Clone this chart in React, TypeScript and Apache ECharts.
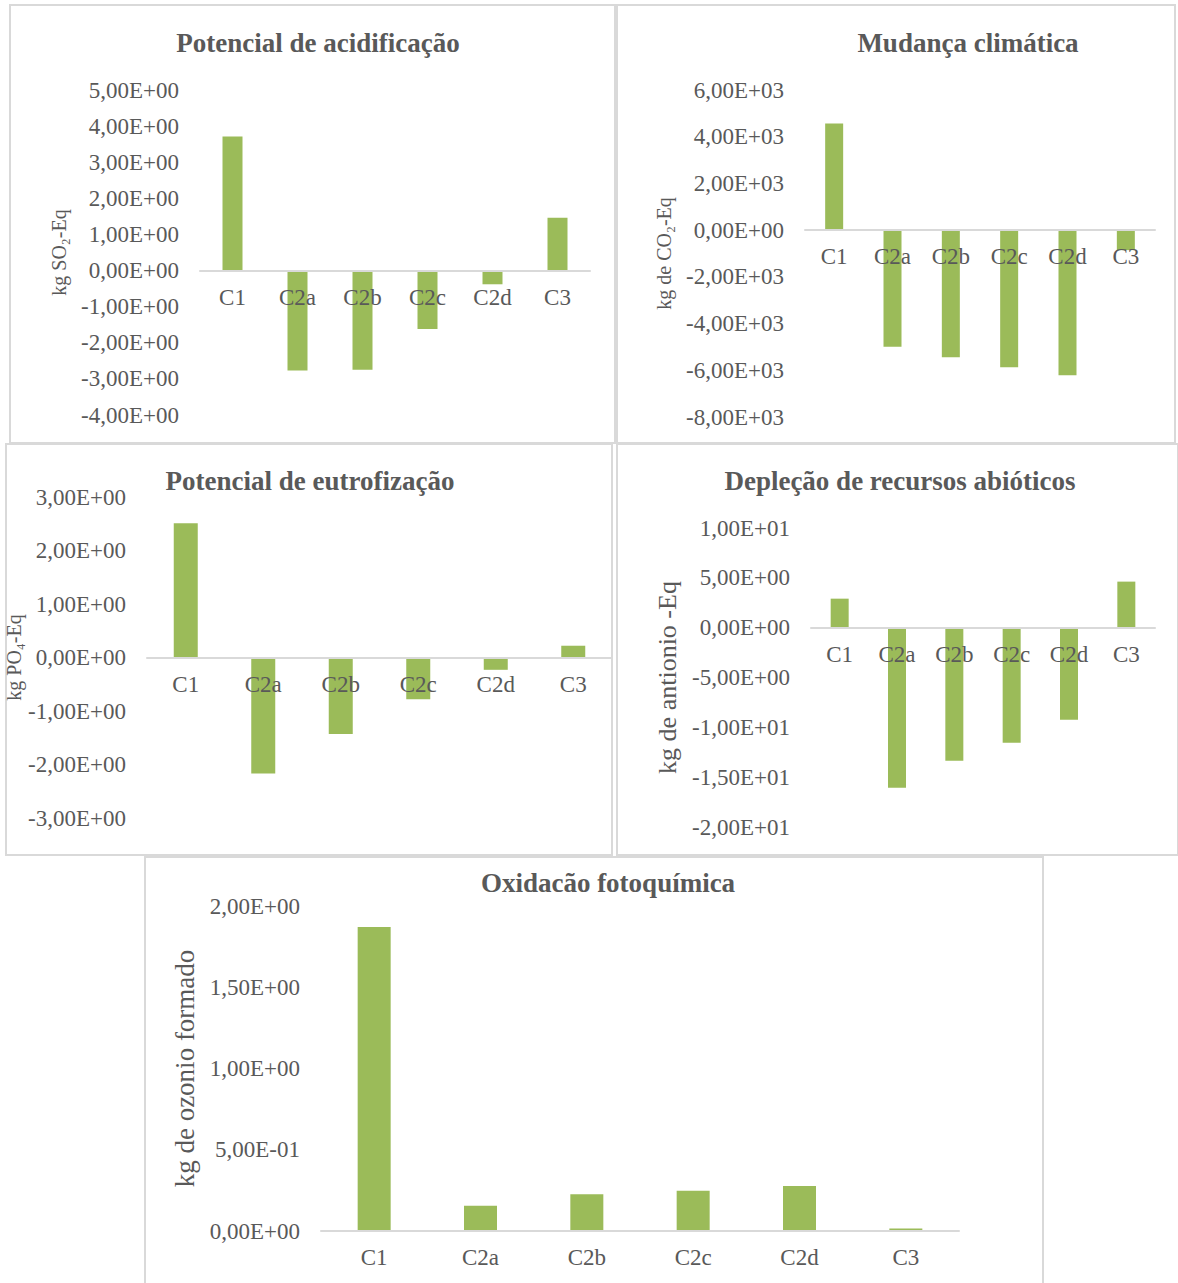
import React, { useEffect, useRef } from "react";
import * as echarts from "echarts";

const categories = ["C1", "C2a", "C2b", "C2c", "C2d", "C3"];
const acidValues = [3.71, -2.77, -2.75, -1.62, -0.38, 1.46];
const climateValues = [4570, -4990, -5445, -5870, -6215, -855];
const eutroValues = [2.51, -2.17, -1.43, -0.78, -0.23, 0.22];
const abioticValues = [2.91, -16.06, -13.35, -11.55, -9.24, 4.62];
const photoValues = [1.871, 0.156, 0.226, 0.248, 0.277, 0.015];

const titles = [
  "Potencial de acidificação",
  "Mudança climática",
  "Potencial de eutrofização",
  "Depleção de recursos abióticos",
  "Oxidacão fotoquímica",
];
const axisNames = [
  "kg SO₂-Eq",
  "kg de CO₂-Eq",
  "kg PO₄-Eq",
  "kg de antionio -Eq",
  "kg de ozonio formado",
];
const yMins = [-4, -8000, -3, -20, 0];
const yMaxs = [5, 6000, 3, 10, 2];
const yIntervals = [1, 2000, 1, 5, 0.5];

const FONT = "'Liberation Serif', 'Times New Roman', serif";
const GRAY = "#595959";
const BAR = "#9bbb59";

function sci(v: number): string {
  if (v === 0) return "0,00E+00";
  const s = v.toExponential(2);
  const [m, e] = s.split("e");
  const en = parseInt(e, 10);
  const sign = en < 0 ? "-" : "+";
  const ab = Math.abs(en).toString().padStart(2, "0");
  return m.replace(".", ",") + "E" + sign + ab;
}

const layouts = [
  { grid: { left: 200, top: 90, width: 390, height: 325 }, barWidth: 20, nameGap: 131, nameSize: 20, title: [318, 43], border: [10, 5, 605, 438] },
  { grid: { left: 805, top: 90, width: 350, height: 327 }, barWidth: 18, nameGap: 131, nameSize: 20, title: [968, 43], border: [617, 5, 558, 438] },
  { grid: { left: 147, top: 497, width: 465, height: 321 }, barWidth: 24, nameGap: 105, nameSize: 20, title: [310, 481], border: [6, 444, 606, 411] },
  { grid: { left: 811, top: 528, width: 344, height: 299 }, barWidth: 18, nameGap: 131, nameSize: 26, title: [900, 481], border: [617, 444, 561, 411] },
  { grid: { left: 321, top: 906, width: 638, height: 325 }, barWidth: 33, nameGap: 121, nameSize: 27, title: [608, 883], border: [145, 857, 898, 430] },
];

const dataSets = [acidValues, climateValues, eutroValues, abioticValues, photoValues];

export default function App() {
  const ref = useRef<HTMLDivElement>(null);
  useEffect(() => {
    if (!ref.current) return;
    const chart = echarts.init(ref.current, null, { renderer: "svg" });
    const option: any = {
      animation: false,
      backgroundColor: "#ffffff",
      grid: layouts.map((l) => ({ ...l.grid, containLabel: false })),
      xAxis: layouts.map((l, i) => {
        // place the category axis (line + labels) at the value 0 of the y scale
        const zeroFromBottom = (l.grid.height * (0 - yMins[i])) / (yMaxs[i] - yMins[i]);
        return {
          type: "category",
          gridIndex: i,
          data: categories,
          position: "bottom",
          offset: -zeroFromBottom,
          z: 5,
          axisLine: { show: true, onZero: false, lineStyle: { color: "#d9d9d9", width: 2 } },
          axisTick: { show: false },
          axisLabel: { color: GRAY, fontFamily: FONT, fontSize: 23, margin: 15 },
          splitLine: { show: false },
        };
      }),
      yAxis: layouts.map((l, i) => ({
        type: "value",
        gridIndex: i,
        min: yMins[i],
        max: yMaxs[i],
        interval: yIntervals[i],
        axisLine: { show: false },
        axisTick: { show: false },
        splitLine: { show: false },
        axisLabel: { color: GRAY, fontFamily: FONT, fontSize: 23, margin: 21, formatter: (v: number) => sci(v) },
        name: axisNames[i],
        nameLocation: "middle",
        nameRotate: 90,
        nameGap: l.nameGap,
        nameTextStyle: { color: GRAY, fontFamily: FONT, fontSize: l.nameSize },
      })),
      series: layouts.map((l, i) => ({
        type: "bar",
        xAxisIndex: i,
        yAxisIndex: i,
        data: dataSets[i],
        barWidth: l.barWidth,
        itemStyle: { color: BAR },
        z: 2,
      })),
      graphic: [
        ...layouts.map((l) => ({
          type: "rect",
          shape: { x: l.border[0], y: l.border[1], width: l.border[2], height: l.border[3] },
          style: { fill: "none", stroke: "#d9d9d9", lineWidth: 2 },
          silent: true,
          z: -1,
        })),
        ...layouts.map((l, i) => ({
          type: "text",
          x: l.title[0],
          y: l.title[1],
          style: {
            text: titles[i],
            fill: GRAY,
            font: `bold 27px ${FONT}`,
            textAlign: "center",
            textVerticalAlign: "middle",
          },
        })),
      ],
    };
    chart.setOption(option);
    return () => chart.dispose();
  }, []);
  return (
    <div
      ref={ref}
      style={{ position: "absolute", left: 0, top: 0, width: 1178, height: 1283 }}
    />
  );
}
